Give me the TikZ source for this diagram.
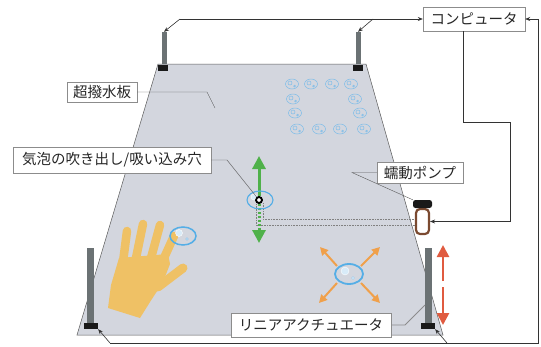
\documentclass[tikz,border=0pt]{standalone}
\usepackage{fontspec}
\setmainfont{Noto Sans CJK JP}
\usetikzlibrary{arrows.meta}

\definecolor{platefill}{HTML}{D3D6DE}
\definecolor{plateedge}{HTML}{5A5A5A}
\definecolor{postgray}{HTML}{6B7274}
\definecolor{bubbleblue}{HTML}{55AEE6}
\definecolor{bubblelight}{HTML}{7DBDE9}
\definecolor{flowgreen}{HTML}{4FB14A}
\definecolor{moveorange}{HTML}{F0A04A}
\definecolor{movered}{HTML}{E05B40}
\definecolor{handyellow}{HTML}{EFC165}
\definecolor{pumpbrown}{HTML}{7B4A30}

\begin{document}
\begin{tikzpicture}[x=1pt, y=-1pt, font=\fontsize{14.5}{16}\selectfont]
    \tikzset{
        tag/.style={
            draw=black!45,
            fill=white,
            text=black!85,
            inner xsep=6pt,
            inner ysep=0pt,
            minimum height=21pt
        },
        post/.style={fill=postgray, inner sep=0pt, minimum width=5pt},
        base/.style={fill=black!90, inner sep=0pt, minimum width=10pt, minimum height=6pt},
        wire/.style={draw=black!80, line width=0.6pt},
        wirearrow/.style={wire, -{Stealth[length=5pt,width=4pt]}},
        leader/.style={draw=black!65, line width=0.4pt},
        tube/.style={draw=black!50, densely dotted, line width=0.6pt},
        gridbubble/.style={draw=bubblelight, line width=0.5pt},
        finger/.style={draw=handyellow, line cap=round, line width=8.5pt},
        orangearrow/.style={draw=moveorange, line width=2pt, -{Triangle[length=8pt,width=8pt]}},
        redarrow/.style={draw=movered, line width=2.6pt, -{Triangle[length=12pt,width=12pt]}}
    }
    \useasboundingbox (0,0) rectangle (541,346);

    % plate
    \filldraw[fill=platefill, draw=plateedge, line width=0.5pt]
        (158,64) -- (366,64) -- (443,335) -- (77,335) -- cycle;

    % bubbles gathered on the plate
    \foreach \bx/\by in {292/84, 311/84, 332/84, 351/84, 293/99, 355/99,
                         295/113, 360/113, 297/129, 319/129, 340/129, 364/129} {
        \draw[gridbubble] (\bx,\by) ellipse [x radius=6.5, y radius=5];
        \draw[gridbubble] (\bx-2,\by-1) circle [radius=2];
        \draw[gridbubble] (\bx+2.5,\by+2) circle [radius=0.9];
    }

    % hand
    \fill[handyellow] (108,308) -- (111,285) -- (119,258) -- (168,254)
        -- (170,264) -- (163,282) -- (150,302) -- (140,318) -- cycle;
    \draw[finger] (123,262) -- (127,231);
    \draw[finger] (136,258) -- (143,224);
    \draw[finger] (151,258) -- (160,225);
    \draw[finger] (164,258) -- (174,236);
    \draw[finger, line width=9pt] (158,287) -- (183,268);

    % bubble under the finger
    \draw[bubbleblue, line width=1.5pt] (183,236) ellipse [x radius=13, y radius=9];
    \filldraw[fill=white!70!bubblelight, draw=white] (179,233) circle [radius=3.5];
    \filldraw[fill=white!70!bubblelight, draw=bubblelight, line width=0.3pt] (187,239) circle [radius=1.3];

    % bubble pushed around
    \coordinate (oc) at (349,274);
    \draw[orangearrow] (337,266) -- (320,247);
    \draw[orangearrow] (361,266) -- (380,247);
    \draw[orangearrow] (337,283) -- (319,303);
    \draw[orangearrow] (361,283) -- (380,303);
    \draw[bubbleblue, line width=1.8pt] (oc) ellipse [x radius=14, y radius=10];
    \filldraw[fill=white!70!bubblelight, draw=white] (345,271) circle [radius=4];
    \filldraw[fill=white!70!bubblelight, draw=bubblelight, line width=0.3pt] (353,278) circle [radius=1.5];

    % hole with its tubes to the pump
    \node[circle, draw=black, line width=1.6pt, fill=white, minimum size=6pt, inner sep=0pt] (hole) at (259,200) {};
    \node[draw=pumpbrown, line width=2.2pt, fill=white, rounded corners=4pt,
          minimum width=13pt, minimum height=25pt, inner sep=0pt] (pump) at (422.5,221.5) {};
    \node[fill=black!90, rounded corners=2.5pt, minimum width=19pt, minimum height=8pt, inner sep=0pt]
        (pumpcap) at (422.5,204) {};
    \coordinate (tubeA) at (263,203);
    \coordinate (tubeB) at (256,204);
    \draw[tube] (tubeA) |- ([yshift=2.5pt]pump.west);
    \draw[tube] (tubeB) |- ([yshift=-3.5pt]pump.west);

    \coordinate (upTip) at (259,156);
    \coordinate (downTip) at (259,243);
    \draw[flowgreen, line width=3pt, -{Triangle[length=13pt,width=13pt]}] (hole.north) -- (upTip);
    \draw[flowgreen, line width=3pt, dash pattern=on 2pt off 2pt, -{Triangle[length=13pt,width=13pt]}]
        (hole.south) -- (downTip);
    \draw[bubbleblue, line width=1.1pt] (260,200) ellipse [x radius=13, y radius=9];
    \filldraw[fill=white!70!bubblelight, draw=white] (254,197) circle [radius=3];
    \node[circle, draw=black, line width=1.6pt, minimum size=6pt, inner sep=0pt] at (hole) {};

    % linear actuators
    \node[post, minimum height=32pt] (postTL) at (164,48) {};
    \node[post, minimum height=32pt] (postTR) at (358,48) {};
    \node[base] (baseTL) at (163,68) {};
    \node[base] (baseTR) at (358,68) {};
    \node[post, minimum width=7pt, minimum height=75pt] (postBL) at (90.5,285.5) {};
    \node[post, minimum width=7pt, minimum height=75pt] (postBR) at (428.5,285.5) {};
    \node[base, minimum width=14pt] (baseBL) at (91,326) {};
    \node[base, minimum width=14pt] (baseBR) at (428,326) {};

    \coordinate (redTop) at (443,245);
    \coordinate (redGapA) at (443,281);
    \coordinate (redGapB) at (443,287);
    \coordinate (redBot) at (443,325);
    \draw[redarrow] (redGapA) -- (redTop);
    \draw[redarrow] (redGapB) -- (redBot);

    % computer and wiring
    \node[tag, minimum width=102pt, minimum height=24pt] (comp) at (474,19) {コンピュータ};

    \coordinate (jTL) at (180,19);
    \coordinate (jTR) at (373,19);
    \draw[wirearrow] (jTL) -- (comp.west);
    \draw[wirearrow] (jTL) -- (postTL.north);
    \draw[wirearrow] (jTR) -- (postTR.north);

    \coordinate (jBL) at (110,343);
    \coordinate (jBR) at (447,343);
    \draw[wirearrow] (jBL) -- (538,343) -- (538,19) -- (comp.east);
    \draw[wirearrow] (jBL) -- (baseBL.south east);
    \draw[wirearrow] (jBR) -- (baseBR.south east);

    \draw[wirearrow] ([xshift=-11pt]comp.south) |- (510,122) |- (pump.east);

    % labels
    \node[tag, minimum width=70pt, minimum height=20pt] (plateTag) at (102,92) {超撥水板};
    \node[tag, minimum width=198pt, minimum height=26pt] (holeTag) at (112,160) {気泡の吹き出し/吸い込み穴};
    \node[tag, minimum width=86pt, minimum height=21pt] (pumpTag) at (420,172.5) {蠕動ポンプ};
    \node[tag, minimum width=160pt, minimum height=24pt] (actTag) at (311,325) {リニアアクチュエータ};

    \coordinate (platePt) at (215,108);
    \coordinate (actPt) at (425,305);
    \draw[leader] (plateTag.east) -- (207,92) -- (platePt);
    \draw[leader] (holeTag.east) -- (227,160) -- (hole);
    \draw[leader] (pumpTag.west) -- (352,172.5) -- (pumpcap.north west);
    \draw[leader, draw=black!45, line width=0.8pt] (actTag.east) -- (405,325) -- (actPt);
\end{tikzpicture}
\end{document}
